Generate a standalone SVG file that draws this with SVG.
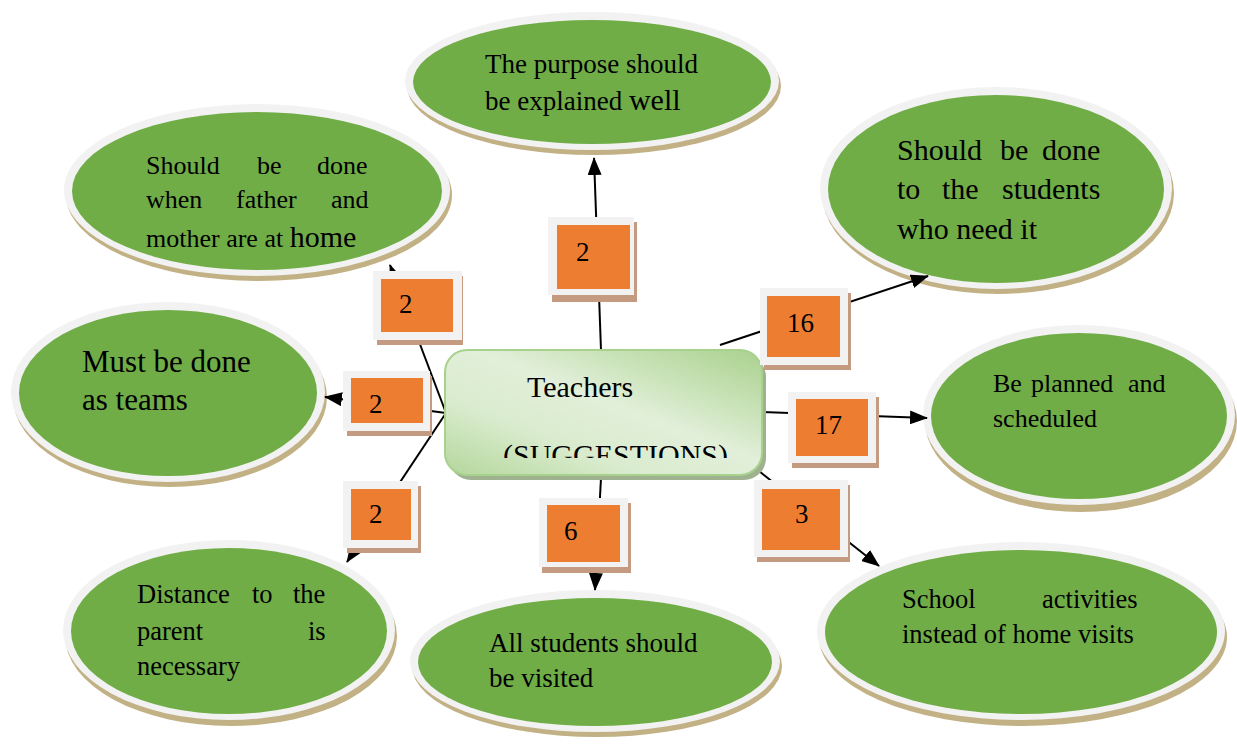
<svg xmlns="http://www.w3.org/2000/svg" width="1237" height="744" viewBox="0 0 1237 744">
<style>
.sh{fill:#c2b185}
.ring{fill:#f2f2f2}
.in{fill:#70ad47}
.t{font-family:"Liberation Serif","Times New Roman",serif;fill:#000}
.bf{fill:#f2f2f2}
.bs{fill:#c49a80}
.bo{fill:#ed7d31}
.n{font-family:"Liberation Serif","Times New Roman",serif;font-size:27px;fill:#000}
.c{stroke:#000;stroke-width:2;fill:none;marker-end:url(#ah)}
.cn{stroke:#000;stroke-width:2;fill:none}
</style>
<defs>
<marker id="ah" markerUnits="userSpaceOnUse" markerWidth="18" markerHeight="14" viewBox="0 0 18 14" refX="17" refY="7" orient="auto">
<path d="M0,0 L18,7 L0,14 Z" fill="#000"/>
</marker>
<linearGradient id="cg" x1="1" y1="0" x2="0" y2="1">
<stop offset="0" stop-color="#a9d18e"/>
<stop offset="0.25" stop-color="#c8e2b6"/>
<stop offset="0.45" stop-color="#e2efda"/>
<stop offset="0.7" stop-color="#d9ebcd"/>
<stop offset="1" stop-color="#b3d79b"/>
</linearGradient>
<clipPath id="cc"><rect x="445" y="350" width="317" height="108"/></clipPath>
</defs>
<rect width="1237" height="744" fill="#fff"/>

<g id="e1">
<ellipse class="sh" cx="594" cy="86" rx="187" ry="69"/>
<ellipse class="ring" cx="592" cy="81" rx="187" ry="69"/>
<ellipse class="in" cx="592" cy="82" rx="179" ry="62"/>
<text class="t" font-size="27" x="485" y="73">The purpose should</text>
<text class="t" font-size="27" x="485" y="110">be explained <tspan font-size="30">well</tspan></text>
</g>

<g id="e2">
<ellipse class="sh" cx="259" cy="195" rx="193" ry="86"/>
<ellipse class="ring" cx="257" cy="190" rx="193" ry="86"/>
<ellipse class="in" cx="257" cy="191" rx="185" ry="79"/>
<text class="t" font-size="26" y="174"><tspan x="146">Should</tspan><tspan x="257">be</tspan><tspan x="317">done</tspan></text>
<text class="t" font-size="26" y="208"><tspan x="146">when</tspan><tspan x="236">father</tspan><tspan x="331">and</tspan></text>
<text class="t" font-size="26" x="146" y="247">mother are at <tspan font-size="30">home</tspan></text>
</g>

<g id="e3">
<ellipse class="sh" cx="998" cy="193" rx="176" ry="101"/>
<ellipse class="ring" cx="996" cy="188" rx="176" ry="101"/>
<ellipse class="in" cx="996" cy="189" rx="168" ry="94"/>
<text class="t" font-size="30" y="160"><tspan x="897">Should</tspan><tspan x="1000">be</tspan><tspan x="1042">done</tspan></text>
<text class="t" font-size="30" y="199"><tspan x="897">to</tspan><tspan x="942">the</tspan><tspan x="1002">students</tspan></text>
<text class="t" font-size="30" x="897" y="239">who need it</text>
</g>

<g id="e4">
<ellipse class="sh" cx="170" cy="397" rx="157" ry="90"/>
<ellipse class="ring" cx="168" cy="392" rx="157" ry="90"/>
<ellipse class="in" cx="168" cy="393" rx="149" ry="83"/>
<text class="t" font-size="31" x="82" y="372">Must be done</text>
<text class="t" font-size="31" x="82" y="410">as teams</text>
</g>

<g id="e5">
<ellipse class="sh" cx="1081" cy="421" rx="156" ry="91"/>
<ellipse class="ring" cx="1079" cy="415" rx="156" ry="90"/>
<ellipse class="in" cx="1079" cy="416" rx="148" ry="83"/>
<text class="t" font-size="26" y="392"><tspan x="993">Be</tspan><tspan x="1031">planned</tspan><tspan x="1128">and</tspan></text>
<text class="t" font-size="26" x="993" y="427">scheduled</text>
</g>

<g id="e6">
<ellipse class="sh" cx="231" cy="636" rx="166" ry="90"/>
<ellipse class="ring" cx="229" cy="630" rx="166" ry="90"/>
<ellipse class="in" cx="229" cy="631" rx="158" ry="83"/>
<text class="t" font-size="26.5" y="603"><tspan x="137">Distance</tspan><tspan x="252">to</tspan><tspan x="293">the</tspan></text>
<text class="t" font-size="26.5" y="640"><tspan x="137">parent</tspan><tspan x="308">is</tspan></text>
<text class="t" font-size="26.5" x="137" y="675">necessary</text>
</g>

<g id="e7">
<ellipse class="sh" cx="597" cy="666" rx="185" ry="71"/>
<ellipse class="ring" cx="595" cy="661" rx="185" ry="71"/>
<ellipse class="in" cx="595" cy="662" rx="177" ry="64"/>
<text class="t" font-size="27" x="489" y="652">All students should</text>
<text class="t" font-size="27" x="489" y="687">be visited</text>
</g>

<g id="e8">
<ellipse class="sh" cx="1023" cy="637" rx="204" ry="89"/>
<ellipse class="ring" cx="1021" cy="631" rx="204" ry="89"/>
<ellipse class="in" cx="1021" cy="632" rx="196" ry="82"/>
<text class="t" font-size="26.5" y="608"><tspan x="902">School</tspan><tspan x="1042">activities</tspan></text>
<text class="t" font-size="26.5" x="902" y="643">instead of home visits</text>
</g>

<g id="connectors">
<line class="c" x1="601" y1="350" x2="594" y2="158"/>
<line class="c" x1="446" y1="413" x2="390" y2="265"/>
<line class="c" x1="446" y1="413" x2="325" y2="397"/>
<line class="c" x1="446" y1="413" x2="347" y2="562"/>
<line class="c" x1="720" y1="345" x2="928" y2="276"/>
<line class="c" x1="762" y1="412" x2="927" y2="418"/>
<line class="c" x1="745" y1="460" x2="879" y2="566"/>
<line class="c" x1="601" y1="478" x2="595" y2="590"/>
</g>

<g id="center">
<rect x="449" y="355" width="317" height="125" rx="22" fill="#9fb28f"/>
<rect x="445" y="350" width="317" height="125" rx="22" fill="url(#cg)" stroke="#a9d18e" stroke-width="2"/>
<text class="t" font-size="30" x="527" y="397">Teachers</text>
<text class="t" font-size="30" x="503" y="465" clip-path="url(#cc)">(SUGGESTIONS)</text>
</g>

<g id="b1">
<rect class="bs" x="552" y="222" width="85" height="80"/>
<rect class="bf" x="548" y="217" width="86" height="78"/>
<rect class="bo" x="557" y="225" width="73" height="64"/>
<text class="n" x="576" y="261">2</text>
</g>
<g id="b2">
<rect class="bs" x="377" y="276" width="86" height="69"/>
<rect class="bf" x="373" y="271" width="89" height="69"/>
<rect class="bo" x="381" y="279" width="72" height="53"/>
<text class="n" x="399" y="313">2</text>
</g>
<g id="b3">
<rect class="bs" x="347" y="376" width="85" height="60"/>
<rect class="bf" x="343" y="371" width="87" height="60"/>
<rect class="bo" x="351" y="378" width="72" height="45"/>
<text class="n" x="369" y="413">2</text>
</g>
<g id="b4">
<rect class="bs" x="347" y="486" width="74" height="67"/>
<rect class="bf" x="343" y="481" width="75" height="67"/>
<rect class="bo" x="351" y="489" width="60" height="51"/>
<text class="n" x="369" y="523">2</text>
</g>
<g id="b5">
<rect class="bs" x="764" y="293" width="87" height="77"/>
<rect class="bf" x="760" y="288" width="88" height="77"/>
<rect class="bo" x="767" y="296" width="73" height="61"/>
<text class="n" x="787" y="332">16</text>
</g>
<g id="b6">
<rect class="bs" x="792" y="397" width="87" height="71"/>
<rect class="bf" x="788" y="392" width="88" height="71"/>
<rect class="bo" x="796" y="399" width="72" height="57"/>
<text class="n" x="815" y="434">17</text>
</g>
<g id="b7">
<rect class="bs" x="757" y="485" width="93" height="77"/>
<rect class="bf" x="754" y="480" width="94" height="77"/>
<rect class="bo" x="762" y="489" width="78" height="61"/>
<text class="n" x="795" y="523">3</text>
</g>
<g id="b8">
<rect class="bs" x="542" y="503" width="89" height="70"/>
<rect class="bf" x="539" y="498" width="89" height="69"/>
<rect class="bo" x="547" y="505" width="73" height="57"/>
<text class="n" x="564" y="540">6</text>
</g>
</svg>
